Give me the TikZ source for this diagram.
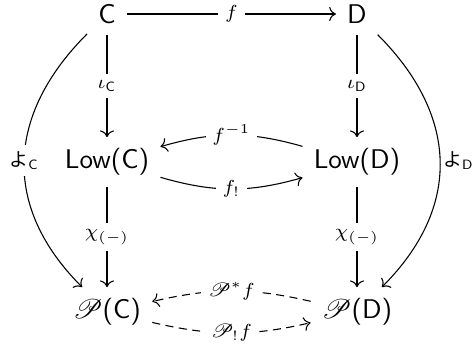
\documentclass[tikz,border=0pt]{standalone}
\usepackage{fontspec}
\usepackage{mathrsfs}
\newfontfamily\jpfont{Noto Sans CJK JP}
\usetikzlibrary{arrows.meta}
\newcommand{\yoneda}{\mbox{\jpfont よ}}

\begin{document}
\begin{tikzpicture}[x=0.37pt,y=0.37pt,
  obj/.style={inner sep=4pt},
  lab/.style={fill=white,inner sep=2.5pt,font=\scriptsize},
  arr/.style={-{Computer Modern Rightarrow}},
  dsh/.style={dash pattern=on 3pt off 2pt}]
\useasboundingbox (0,0) rectangle (476,-351);
% objects
\node[obj] (C) at (107,-14) {\textsf{C}};
\node[obj] (D) at (357,-14) {\textsf{D}};
\node[obj] (LC) at (107,-162) {\textsf{Low(C)}};
\node[obj] (LD) at (357,-162) {\textsf{Low(D)}};
\node[obj] (PC) at (107,-312) {$\mathscr{P}$\textsf{(C)}};
\node[obj] (PD) at (357,-312) {$\mathscr{P}$\textsf{(D)}};
% straight arrows
\draw[arr] (C) -- node[lab] {$f$} (D);
\draw[arr] (C) -- node[lab] {$\iota_{\mathsf{C}}$} (LC);
\draw[arr] (D) -- node[lab] {$\iota_{\mathsf{D}}$} (LD);
\draw[arr] (LC) -- node[lab] {$\chi_{(-)}$} (PC);
\draw[arr] (LD) -- node[lab] {$\chi_{(-)}$} (PD);
% bent arrows
\draw[arr] (LD) to[bend right=16] node[lab] {$f^{-1}$} (LC);
\draw[arr] (LC) to[bend right=16] node[lab] {$f_{!}$} (LD);
\draw[arr,dsh] (PD) to[bend right=13] node[lab] {$\mathscr{P}^{*}f$} (PC);
\draw[arr,dsh] (PC) to[bend right=13] node[lab] {$\mathscr{P}_{!}f$} (PD);
% Yoneda
\draw[arr] (C) to[out=225,in=135,looseness=1.15] node[lab] {$\yoneda_{\mathsf{C}}$} (PC);
\draw[arr] (D) to[out=-45,in=45,looseness=1.15] node[lab,fill=none,right,inner sep=1pt] {$\yoneda_{\mathsf{D}}$} (PD);
\end{tikzpicture}
\end{document}
